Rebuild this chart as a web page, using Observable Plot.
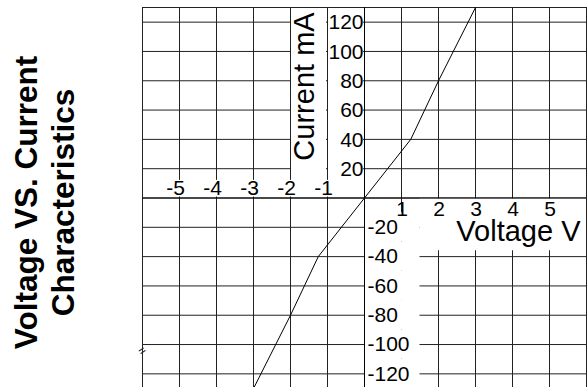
<!DOCTYPE html>
<html>
<head>
<meta charset="utf-8">
<script src="https://cdn.jsdelivr.net/npm/d3@7"></script>
<script src="https://cdn.jsdelivr.net/npm/@observablehq/plot@0.6"></script>
<style>
html, body { margin: 0; padding: 0; background: #fff; overflow: hidden; }
#chart svg { display: block; }
</style>
</head>
<body>
<div id="chart"></div>
<script>
// Data
const voltage = [-3, -2, -1.25, 0, 1.25, 2, 3];
const current = [-130, -80, -40, 0, 40, 80, 130];

// Grid and tick labels
const xGrid = [-6, -5, -4, -3, -2, -1, 0, 1, 2, 3, 4, 5, 6];
const yGrid = [-120, -100, -80, -60, -40, -20, 0, 20, 40, 60, 80, 100, 120];
const xTicksNeg = [-5, -4, -3, -2, -1];
const xTicksPos = [1, 2, 3, 4, 5];
const yTicksPos = [20, 40, 60, 80, 100, 120];
const yTicksNeg = [-20, -40, -60, -80, -100, -120];

const title = "Voltage VS. Current\nCharacteristics";
const xLabel = "Voltage V";
const yLabel = "Current mA";

const points = voltage.map((v, i) => ({v, c: current[i]}));
const font = "'Liberation Sans', Arial, Helvetica, sans-serif";
const yStep = 20;   // grid step of the current axis
const bg = {fill: "white"};

const chart = Plot.plot({
  width: 588,
  height: 388,
  marginLeft: 142,
  marginRight: 2,
  marginTop: 7,
  marginBottom: 0,
  x: {domain: [-6, 6], axis: null},
  y: {domain: [-130, 130], axis: null},
  style: {fontFamily: font, background: "white", overflow: "visible"},
  marks: [
    Plot.gridX(xGrid, {stroke: "#222", strokeOpacity: 1}),
    Plot.gridY(yGrid, {stroke: "#222", strokeOpacity: 1}),

    // white label backgrounds (as in the original spreadsheet chart)
    Plot.rect(yTicksPos, {x1: () => -1, x2: () => 0, y1: d => d - yStep / 2, y2: d => Math.min(d + yStep / 2, 130), insetLeft: 1, insetRight: 1, ...bg}),
    Plot.rect(yTicksNeg, {x1: () => 0, x2: () => 1.5, y1: d => d - yStep / 2, y2: d => Math.min(d + yStep / 2, 0), insetLeft: 1, ...bg}),
    Plot.rect([yLabel], {x1: () => -2, x2: () => -1, y1: () => 130, y2: () => 15, insetLeft: 1, insetRight: 1, ...bg}),
    Plot.rect([xLabel], {x1: () => 1.5, x2: () => 6, y1: () => 0, y2: () => -36, insetTop: 1, ...bg}),
    Plot.rect(xTicksNeg, {x1: d => d - 0.5, x2: d => d + 0.25, y1: () => 0, y2: () => 12, insetBottom: 1, ...bg}),

    // tick labels
    Plot.text(yTicksPos, {x: () => 0, y: d => d, text: d => String(d), textAnchor: "end", dx: -1, dy: 0.5, fontSize: 21, fill: "black"}),
    Plot.text(yTicksNeg, {x: () => 0, y: d => d, text: d => String(d), textAnchor: "start", dx: 3, dy: 0, fontSize: 21, fill: "black"}),
    Plot.text(xTicksNeg, {x: d => d, y: () => 0, text: d => String(d), textAnchor: "middle", lineAnchor: "bottom", dx: -4, dy: -3, fontSize: 21, fill: "black"}),
    Plot.text(xTicksPos, {x: d => d, y: () => 0, text: d => String(d), textAnchor: "middle", lineAnchor: "top", dx: 0.5, dy: 3, fontSize: 21, fill: "black"}),

    // axis titles
    Plot.text([xLabel], {frameAnchor: "right", text: d => d, textAnchor: "end", lineAnchor: "bottom", dx: -6, dy: 43, fontSize: 29, fill: "black"}),
    Plot.text([yLabel], {frameAnchor: "top", text: d => d, rotate: -90, textAnchor: "middle", lineAnchor: "bottom", dx: -51, dy: 79, fontSize: 29, fill: "black"}),

    // chart title on the left
    Plot.text([title], {frameAnchor: "left", text: d => d, rotate: -90, textAnchor: "middle", lineAnchor: "bottom", lineHeight: 1.17, dx: -69, dy: 4.5, fontSize: 31.5, fontWeight: "bold", fill: "black"}),

    // axis break mark on the left edge
    Plot.text(["="], {frameAnchor: "bottom-left", text: d => d, rotate: -35, dx: -1, dy: -32.5, fontSize: 12, fill: "black"}),

    Plot.frame({stroke: "#222"}),
    Plot.ruleX([0], {stroke: "#000"}),
    Plot.ruleY([0], {stroke: "#000"}),
    Plot.line(points, {x: "v", y: "c", stroke: "#000", strokeWidth: 1})
  ]
});
document.getElementById("chart").appendChild(chart);
</script>
</body>
</html>
